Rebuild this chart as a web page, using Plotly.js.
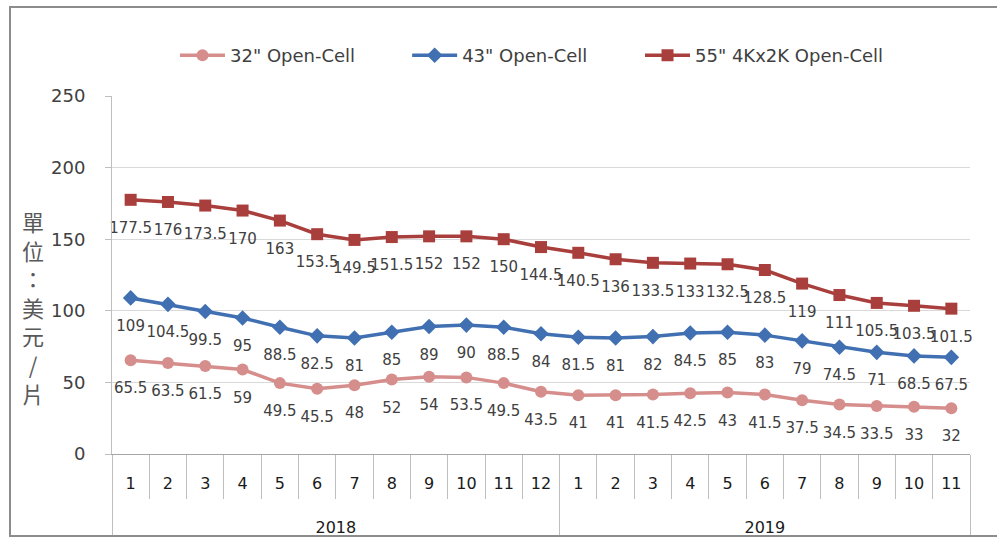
<!DOCTYPE html>
<html>
<head>
<meta charset="utf-8">
<script src="https://cdn.plot.ly/plotly-3.0.1.min.js"></script>
<style>
html,body{margin:0;padding:0;background:#fff;}
#chart{position:absolute;left:0;top:0;width:997px;height:541px;}
#frame{position:absolute;left:9px;top:6px;width:1000px;height:531px;border:2px solid #8c8c8c;pointer-events:none;box-sizing:border-box;}
</style>
</head>
<body>
<div id="chart"></div>
<div id="frame"></div>
<script>
const years = ['2018','2018','2018','2018','2018','2018','2018','2018','2018','2018','2018','2018',
               '2019','2019','2019','2019','2019','2019','2019','2019','2019','2019','2019'];
const months = ['1','2','3','4','5','6','7','8','9','10','11','12',
                '1','2','3','4','5','6','7','8','9','10','11'];
const s32 = [65.5,63.5,61.5,59,49.5,45.5,48,52,54,53.5,49.5,43.5,41,41,41.5,42.5,43,41.5,37.5,34.5,33.5,33,32];
const s43 = [109,104.5,99.5,95,88.5,82.5,81,85,89,90,88.5,84,81.5,81,82,84.5,85,83,79,74.5,71,68.5,67.5];
const s55 = [177.5,176,173.5,170,163,153.5,149.5,151.5,152,152,150,144.5,140.5,136,133.5,133,132.5,128.5,119,111,105.5,103.5,101.5];
const seriesNames = ['32" Open-Cell','43" Open-Cell','55" 4Kx2K Open-Cell'];
const yTitleChars = ['單','位','：','美','元','/','片'];

const FONT = '"DejaVu Sans", sans-serif';
// month labels get invisible extra lines so the year row sits lower, as in the reference
const monthLabels = months.map(m => m + '<br>\u00a0<br><span style="font-size:1px">\u00a0</span>');
function mk(name, vals, color, symbol, size, legendId){
  return {
    type:'scatter', mode:'lines+markers+text', name:name, legend:legendId,
    x:[years, monthLabels], y:vals,
    line:{color:color, width:3.5},
    marker:{color:color, symbol:symbol, size:size},
    text: vals.map(v => '<br><span style="font-size:15px">' + v + '</span>'),
    textposition:'bottom center',
    textfont: {family:FONT, size:12, color:'#404040'},
    cliponaxis:false
  };
}
const data = [
  mk(seriesNames[0], s32, '#D68E8C', 'circle', 12, 'legend'),
  mk(seriesNames[1], s43, '#4070B2', 'diamond', 12, 'legend2'),
  mk(seriesNames[2], s55, '#A93F3C', 'square', 12, 'legend3')
];
function leg(x){
  return {orientation:'h', x:x, xanchor:'left', y:1.113, yanchor:'middle',
          font:{size:18, color:'#404040'}, itemwidth:45, bgcolor:'rgba(0,0,0,0)'};
}
const layout = {
  width:997, height:541,
  margin:{l:112, r:27, t:96, b:87},
  paper_bgcolor:'#fff', plot_bgcolor:'#fff',
  font:{family:FONT, color:'#404040'},
  showlegend:true,
  legend:leg(0.0734), legend2:leg(0.344), legend3:leg(0.6154),
  xaxis:{type:'multicategory', range:[-0.5, 22.5], showline:true, linecolor:'#a6a6a6', linewidth:1,
         ticks:'outside', tickson:'boundaries', ticklen:44, tickcolor:'#bfbfbf',
         showdividers:true, dividercolor:'#bfbfbf', dividerwidth:1,
         tickfont:{size:16, color:'#1a1a1a'}, showgrid:false, zeroline:false, ticklabelstandoff:15},
  yaxis:{range:[0,250], dtick:50, showline:true, linecolor:'#bfbfbf', ticks:'outside', ticklen:6, tickcolor:'#bfbfbf',
         gridcolor:'#d9d9d9', zeroline:false, tickfont:{size:18, color:'#404040'}, ticklabelstandoff:16},
  annotations:[{
    xref:'paper', yref:'paper', x:-0.092, y:0.412, xanchor:'center', yanchor:'middle', showarrow:false,
    text: yTitleChars.join('<br>'), font:{size:22, color:'#595959', family:'"Noto Sans CJK TC", sans-serif'}
  }]
};
Plotly.newPlot('chart', data, layout, {displayModeBar:false, staticPlot:true});
</script>
</body>
</html>
